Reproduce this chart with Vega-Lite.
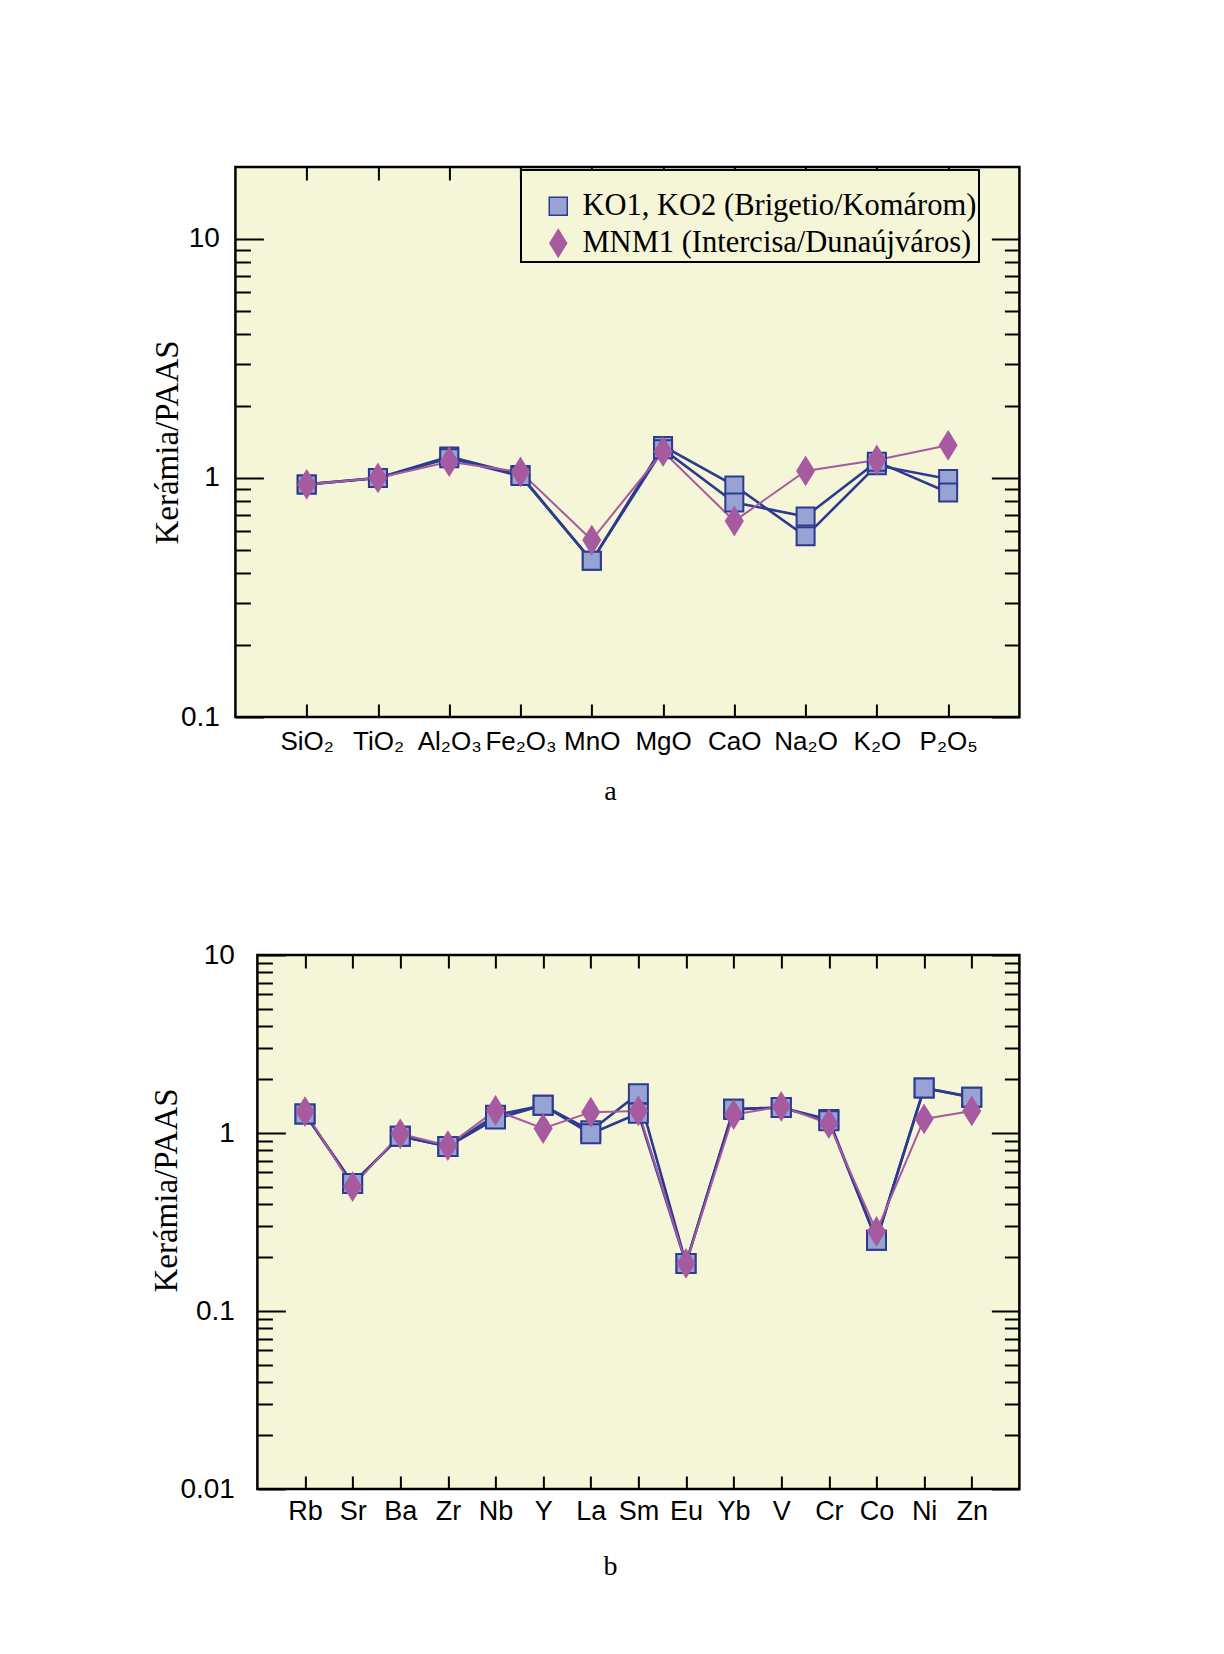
{
  "$schema": "https://vega.github.io/schema/vega-lite/v6.json",
  "background": "white",
  "padding": {"left": 149, "top": 164, "right": 10, "bottom": 10},
  "config": {
    "view": {"fill": "#f5f5d8", "stroke": "#000000", "strokeWidth": 2.5},
    "legend": {"strokeWidth": 2},
    "axis": {"tickColor": "#000000", "tickWidth": 2, "domain": false, "grid": false, "labelColor": "#000000", "titleColor": "#000000", "labelFont": "Liberation Sans", "labelFlush": false, "labelOverlap": false}
  },
  "datasets": {
    "a": [
      {"sample": "KO1", "group": "KO1, KO2 (Brigetio/Komárom)", "oxide": "SiO₂", "value": 0.94},
      {"sample": "KO1", "group": "KO1, KO2 (Brigetio/Komárom)", "oxide": "TiO₂", "value": 1.0},
      {"sample": "KO1", "group": "KO1, KO2 (Brigetio/Komárom)", "oxide": "Al₂O₃", "value": 1.23},
      {"sample": "KO1", "group": "KO1, KO2 (Brigetio/Komárom)", "oxide": "Fe₂O₃", "value": 1.03},
      {"sample": "KO1", "group": "KO1, KO2 (Brigetio/Komárom)", "oxide": "MnO", "value": 0.45},
      {"sample": "KO1", "group": "KO1, KO2 (Brigetio/Komárom)", "oxide": "MgO", "value": 1.36},
      {"sample": "KO1", "group": "KO1, KO2 (Brigetio/Komárom)", "oxide": "CaO", "value": 0.93},
      {"sample": "KO1", "group": "KO1, KO2 (Brigetio/Komárom)", "oxide": "Na₂O", "value": 0.57},
      {"sample": "KO1", "group": "KO1, KO2 (Brigetio/Komárom)", "oxide": "K₂O", "value": 1.13},
      {"sample": "KO1", "group": "KO1, KO2 (Brigetio/Komárom)", "oxide": "P₂O₅", "value": 0.99},
      {"sample": "KO2", "group": "KO1, KO2 (Brigetio/Komárom)", "oxide": "SiO₂", "value": 0.94},
      {"sample": "KO2", "group": "KO1, KO2 (Brigetio/Komárom)", "oxide": "TiO₂", "value": 1.0},
      {"sample": "KO2", "group": "KO1, KO2 (Brigetio/Komárom)", "oxide": "Al₂O₃", "value": 1.21},
      {"sample": "KO2", "group": "KO1, KO2 (Brigetio/Komárom)", "oxide": "Fe₂O₃", "value": 1.02},
      {"sample": "KO2", "group": "KO1, KO2 (Brigetio/Komárom)", "oxide": "MnO", "value": 0.45},
      {"sample": "KO2", "group": "KO1, KO2 (Brigetio/Komárom)", "oxide": "MgO", "value": 1.32},
      {"sample": "KO2", "group": "KO1, KO2 (Brigetio/Komárom)", "oxide": "CaO", "value": 0.79},
      {"sample": "KO2", "group": "KO1, KO2 (Brigetio/Komárom)", "oxide": "Na₂O", "value": 0.69},
      {"sample": "KO2", "group": "KO1, KO2 (Brigetio/Komárom)", "oxide": "K₂O", "value": 1.17},
      {"sample": "KO2", "group": "KO1, KO2 (Brigetio/Komárom)", "oxide": "P₂O₅", "value": 0.87},
      {"sample": "MNM1", "group": "MNM1 (Intercisa/Dunaújváros)", "oxide": "SiO₂", "value": 0.94},
      {"sample": "MNM1", "group": "MNM1 (Intercisa/Dunaújváros)", "oxide": "TiO₂", "value": 1.0},
      {"sample": "MNM1", "group": "MNM1 (Intercisa/Dunaújváros)", "oxide": "Al₂O₃", "value": 1.17},
      {"sample": "MNM1", "group": "MNM1 (Intercisa/Dunaújváros)", "oxide": "Fe₂O₃", "value": 1.06},
      {"sample": "MNM1", "group": "MNM1 (Intercisa/Dunaújváros)", "oxide": "MnO", "value": 0.55},
      {"sample": "MNM1", "group": "MNM1 (Intercisa/Dunaújváros)", "oxide": "MgO", "value": 1.29},
      {"sample": "MNM1", "group": "MNM1 (Intercisa/Dunaújváros)", "oxide": "CaO", "value": 0.66},
      {"sample": "MNM1", "group": "MNM1 (Intercisa/Dunaújváros)", "oxide": "Na₂O", "value": 1.07},
      {"sample": "MNM1", "group": "MNM1 (Intercisa/Dunaújváros)", "oxide": "K₂O", "value": 1.19},
      {"sample": "MNM1", "group": "MNM1 (Intercisa/Dunaújváros)", "oxide": "P₂O₅", "value": 1.37}
    ],
    "b": [
      {"sample": "KO1", "group": "KO1, KO2 (Brigetio/Komárom)", "element": "Rb", "value": 1.28},
      {"sample": "KO1", "group": "KO1, KO2 (Brigetio/Komárom)", "element": "Sr", "value": 0.52},
      {"sample": "KO1", "group": "KO1, KO2 (Brigetio/Komárom)", "element": "Ba", "value": 0.96},
      {"sample": "KO1", "group": "KO1, KO2 (Brigetio/Komárom)", "element": "Zr", "value": 0.84},
      {"sample": "KO1", "group": "KO1, KO2 (Brigetio/Komárom)", "element": "Nb", "value": 1.26},
      {"sample": "KO1", "group": "KO1, KO2 (Brigetio/Komárom)", "element": "Y", "value": 1.43},
      {"sample": "KO1", "group": "KO1, KO2 (Brigetio/Komárom)", "element": "La", "value": 1.03},
      {"sample": "KO1", "group": "KO1, KO2 (Brigetio/Komárom)", "element": "Sm", "value": 1.66},
      {"sample": "KO1", "group": "KO1, KO2 (Brigetio/Komárom)", "element": "Eu", "value": 0.185},
      {"sample": "KO1", "group": "KO1, KO2 (Brigetio/Komárom)", "element": "Yb", "value": 1.36},
      {"sample": "KO1", "group": "KO1, KO2 (Brigetio/Komárom)", "element": "V", "value": 1.39},
      {"sample": "KO1", "group": "KO1, KO2 (Brigetio/Komárom)", "element": "Cr", "value": 1.19},
      {"sample": "KO1", "group": "KO1, KO2 (Brigetio/Komárom)", "element": "Co", "value": 0.25},
      {"sample": "KO1", "group": "KO1, KO2 (Brigetio/Komárom)", "element": "Ni", "value": 1.79},
      {"sample": "KO1", "group": "KO1, KO2 (Brigetio/Komárom)", "element": "Zn", "value": 1.59},
      {"sample": "KO2", "group": "KO1, KO2 (Brigetio/Komárom)", "element": "Rb", "value": 1.28},
      {"sample": "KO2", "group": "KO1, KO2 (Brigetio/Komárom)", "element": "Sr", "value": 0.52},
      {"sample": "KO2", "group": "KO1, KO2 (Brigetio/Komárom)", "element": "Ba", "value": 0.96},
      {"sample": "KO2", "group": "KO1, KO2 (Brigetio/Komárom)", "element": "Zr", "value": 0.84},
      {"sample": "KO2", "group": "KO1, KO2 (Brigetio/Komárom)", "element": "Nb", "value": 1.2},
      {"sample": "KO2", "group": "KO1, KO2 (Brigetio/Komárom)", "element": "Y", "value": 1.43},
      {"sample": "KO2", "group": "KO1, KO2 (Brigetio/Komárom)", "element": "La", "value": 0.99},
      {"sample": "KO2", "group": "KO1, KO2 (Brigetio/Komárom)", "element": "Sm", "value": 1.29},
      {"sample": "KO2", "group": "KO1, KO2 (Brigetio/Komárom)", "element": "Eu", "value": 0.185},
      {"sample": "KO2", "group": "KO1, KO2 (Brigetio/Komárom)", "element": "Yb", "value": 1.36},
      {"sample": "KO2", "group": "KO1, KO2 (Brigetio/Komárom)", "element": "V", "value": 1.39},
      {"sample": "KO2", "group": "KO1, KO2 (Brigetio/Komárom)", "element": "Cr", "value": 1.17},
      {"sample": "KO2", "group": "KO1, KO2 (Brigetio/Komárom)", "element": "Co", "value": 0.25},
      {"sample": "KO2", "group": "KO1, KO2 (Brigetio/Komárom)", "element": "Ni", "value": 1.79},
      {"sample": "KO2", "group": "KO1, KO2 (Brigetio/Komárom)", "element": "Zn", "value": 1.59},
      {"sample": "MNM1", "group": "MNM1 (Intercisa/Dunaújváros)", "element": "Rb", "value": 1.32},
      {"sample": "MNM1", "group": "MNM1 (Intercisa/Dunaújváros)", "element": "Sr", "value": 0.5},
      {"sample": "MNM1", "group": "MNM1 (Intercisa/Dunaújváros)", "element": "Ba", "value": 0.99},
      {"sample": "MNM1", "group": "MNM1 (Intercisa/Dunaújváros)", "element": "Zr", "value": 0.85},
      {"sample": "MNM1", "group": "MNM1 (Intercisa/Dunaújváros)", "element": "Nb", "value": 1.34},
      {"sample": "MNM1", "group": "MNM1 (Intercisa/Dunaújváros)", "element": "Y", "value": 1.06},
      {"sample": "MNM1", "group": "MNM1 (Intercisa/Dunaújváros)", "element": "La", "value": 1.31},
      {"sample": "MNM1", "group": "MNM1 (Intercisa/Dunaújváros)", "element": "Sm", "value": 1.33},
      {"sample": "MNM1", "group": "MNM1 (Intercisa/Dunaújváros)", "element": "Eu", "value": 0.185},
      {"sample": "MNM1", "group": "MNM1 (Intercisa/Dunaújváros)", "element": "Yb", "value": 1.27},
      {"sample": "MNM1", "group": "MNM1 (Intercisa/Dunaújváros)", "element": "V", "value": 1.41},
      {"sample": "MNM1", "group": "MNM1 (Intercisa/Dunaújváros)", "element": "Cr", "value": 1.13},
      {"sample": "MNM1", "group": "MNM1 (Intercisa/Dunaújváros)", "element": "Co", "value": 0.28},
      {"sample": "MNM1", "group": "MNM1 (Intercisa/Dunaújváros)", "element": "Ni", "value": 1.2},
      {"sample": "MNM1", "group": "MNM1 (Intercisa/Dunaújváros)", "element": "Zn", "value": 1.33}
    ]
  },
  "concat": [
    {
      "width": 784,
      "height": 550,
      "data": {"name": "a"},
      "title": {"text": "a", "orient": "bottom", "anchor": "middle", "font": "Liberation Serif", "fontSize": 28, "fontWeight": "normal", "color": "#000000", "dx": -17, "offset": 24},
      "resolve": {"axis": {"x": "independent", "y": "independent"}},
      "layer": [
        {
          "mark": {"type": "line"},
          "encoding": {
            "x": {"field": "oxide", "type": "nominal", "scale": {"type": "point", "domain": ["SiO₂", "TiO₂", "Al₂O₃", "Fe₂O₃", "MnO", "MgO", "CaO", "Na₂O", "K₂O", "P₂O₅"], "padding": 1},
              "axis": {"orient": "bottom", "title": null, "tickSize": -13, "labelPadding": 37, "labelBaseline": "middle", "labelFontSize": 26, "labelAngle": 0}},
            "y": {"field": "value", "type": "quantitative", "scale": {"type": "log", "domain": [0.1, 20], "nice": false, "zero": false},
              "axis": {"orient": "left", "values": [0.1, 1, 10], "format": "~g", "tickSize": -28, "labelPadding": 44, "labelFontSize": 28, "title": "Kerámia/PAAS", "titleFont": "Liberation Serif", "titleFontSize": 33, "titleFontWeight": "normal", "titleX": -68, "titleBaseline": "middle", "titleAlign": "center", "titleAngle": -90}},
            "detail": {"field": "sample"},
            "color": {"field": "group", "type": "nominal", "scale": {"domain": ["KO1, KO2 (Brigetio/Komárom)", "MNM1 (Intercisa/Dunaújváros)"], "range": ["#2d3a8f", "#a65ba0"]}, "legend": null},
            "strokeWidth": {"field": "group", "type": "nominal", "scale": {"domain": ["KO1, KO2 (Brigetio/Komárom)", "MNM1 (Intercisa/Dunaújváros)"], "range": [2.6, 2.0]}, "legend": null}
          }
        },
        {
          "mark": {"type": "point", "filled": true, "opacity": 1, "strokeWidth": 2},
          "encoding": {
            "x": {"field": "oxide", "type": "nominal", "axis": null},
            "y": {"field": "value", "type": "quantitative", "axis": null},
            "shape": {"field": "group", "type": "nominal", "scale": {"domain": ["KO1, KO2 (Brigetio/Komárom)", "MNM1 (Intercisa/Dunaújváros)"], "range": ["square", "M0,-1L0.62,0L0,1L-0.62,0Z"]},
              "legend": {"title": " ", "titleFontSize": 14, "titlePadding": 5, "orient": "none", "legendX": 286, "legendY": 3, "padding": 2, "strokeColor": "#000000", "fillColor": "#f5f5d8", "labelFont": "Liberation Serif", "labelFontSize": 30.5, "labelColor": "#000000", "labelLimit": 800, "symbolOffset": 20, "labelOffset": 9, "rowPadding": 4}},
            "fill": {"field": "group", "type": "nominal", "scale": {"domain": ["KO1, KO2 (Brigetio/Komárom)", "MNM1 (Intercisa/Dunaújváros)"], "range": ["#97a3d3", "#a65ba0"]},
              "legend": {"title": " ", "titleFontSize": 14, "titlePadding": 5, "orient": "none", "legendX": 286, "legendY": 3, "padding": 2, "strokeColor": "#000000", "fillColor": "#f5f5d8", "labelFont": "Liberation Serif", "labelFontSize": 30.5, "labelColor": "#000000", "labelLimit": 800, "symbolOffset": 20, "labelOffset": 9, "rowPadding": 4}},
            "stroke": {"field": "group", "type": "nominal", "scale": {"domain": ["KO1, KO2 (Brigetio/Komárom)", "MNM1 (Intercisa/Dunaújváros)"], "range": ["#2d3a8f", "#a65ba0"]},
              "legend": {"title": " ", "titleFontSize": 14, "titlePadding": 5, "orient": "none", "legendX": 286, "legendY": 3, "padding": 2, "strokeColor": "#000000", "fillColor": "#f5f5d8", "labelFont": "Liberation Serif", "labelFontSize": 30.5, "labelColor": "#000000", "labelLimit": 800, "symbolOffset": 20, "labelOffset": 9, "rowPadding": 4}},
            "size": {"field": "group", "type": "nominal", "scale": {"domain": ["KO1, KO2 (Brigetio/Komárom)", "MNM1 (Intercisa/Dunaújváros)"], "range": [324, 729]},
              "legend": {"title": " ", "titleFontSize": 14, "titlePadding": 5, "orient": "none", "legendX": 286, "legendY": 3, "padding": 2, "strokeColor": "#000000", "fillColor": "#f5f5d8", "labelFont": "Liberation Serif", "labelFontSize": 30.5, "labelColor": "#000000", "labelLimit": 800, "symbolOffset": 20, "labelOffset": 9, "rowPadding": 4}}
          }
        },
        {
          "mark": {"type": "point", "opacity": 0},
          "encoding": {
            "x": {"field": "oxide", "type": "nominal", "axis": null},
            "y": {"field": "value", "type": "quantitative", "axis": {"orient": "left", "values": [0.2, 0.3, 0.4, 0.5, 0.6, 0.7, 0.8, 0.9, 2, 3, 4, 5, 6, 7, 8, 9], "tickSize": -15, "labels": false, "title": null}}
          }
        },
        {
          "mark": {"type": "point", "opacity": 0},
          "encoding": {
            "x": {"field": "oxide", "type": "nominal", "axis": null},
            "y": {"field": "value", "type": "quantitative", "axis": {"orient": "right", "values": [0.1, 1, 10], "format": "~g", "tickSize": -28, "labels": true, "labelOpacity": 0, "labelFontSize": 28, "labelPadding": 12, "title": null}}
          }
        },
        {
          "mark": {"type": "point", "opacity": 0},
          "encoding": {
            "x": {"field": "oxide", "type": "nominal", "axis": null},
            "y": {"field": "value", "type": "quantitative", "axis": {"orient": "right", "values": [0.2, 0.3, 0.4, 0.5, 0.6, 0.7, 0.8, 0.9, 2, 3, 4, 5, 6, 7, 8, 9], "tickSize": -15, "labels": false, "title": null}}
          }
        },
        {
          "mark": {"type": "point", "opacity": 0},
          "encoding": {
            "x": {"field": "oxide", "type": "nominal", "axis": {"orient": "top", "tickSize": -13, "labels": false, "title": null}},
            "y": {"field": "value", "type": "quantitative", "axis": null}
          }
        }
      ]
    },
    {
      "width": 762,
      "height": 534,
      "data": {"name": "b"},
      "title": {"text": "b", "orient": "bottom", "anchor": "middle", "font": "Liberation Serif", "fontSize": 28, "fontWeight": "normal", "color": "#000000", "dx": -28, "offset": 29},
      "resolve": {"axis": {"x": "independent", "y": "independent"}},
      "layer": [
        {
          "mark": {"type": "line"},
          "encoding": {
            "x": {"field": "element", "type": "nominal", "scale": {"type": "point", "domain": ["Rb", "Sr", "Ba", "Zr", "Nb", "Y", "La", "Sm", "Eu", "Yb", "V", "Cr", "Co", "Ni", "Zn"], "padding": 1},
              "axis": {"orient": "bottom", "title": null, "tickSize": -13, "labelPadding": 35, "labelBaseline": "middle", "labelFontSize": 27, "labelAngle": 0}},
            "y": {"field": "value", "type": "quantitative", "scale": {"type": "log", "domain": [0.01, 10], "nice": false, "zero": false},
              "axis": {"orient": "left", "values": [0.01, 0.1, 1, 10], "format": "~g", "tickSize": -28, "labelPadding": 51, "labelFontSize": 28, "title": "Kerámia/PAAS", "titleFont": "Liberation Serif", "titleFontSize": 33, "titleFontWeight": "normal", "titleX": -91, "titleY": 235, "titleBaseline": "middle", "titleAlign": "center", "titleAngle": -90}},
            "detail": {"field": "sample"},
            "color": {"field": "group", "type": "nominal", "scale": {"domain": ["KO1, KO2 (Brigetio/Komárom)", "MNM1 (Intercisa/Dunaújváros)"], "range": ["#2d3a8f", "#a65ba0"]}, "legend": null},
            "strokeWidth": {"field": "group", "type": "nominal", "scale": {"domain": ["KO1, KO2 (Brigetio/Komárom)", "MNM1 (Intercisa/Dunaújváros)"], "range": [2.6, 2.0]}, "legend": null}
          }
        },
        {
          "transform": [{"filter": "datum.sample != 'MNM1'"}],
          "mark": {"type": "point", "filled": true, "opacity": 1, "shape": "square", "size": 361, "fill": "#97a3d3", "stroke": "#2d3a8f", "strokeWidth": 2},
          "encoding": {
            "x": {"field": "element", "type": "nominal", "axis": null},
            "y": {"field": "value", "type": "quantitative", "axis": null}
          }
        },
        {
          "transform": [{"filter": "datum.sample == 'MNM1'"}],
          "mark": {"type": "point", "filled": true, "opacity": 1, "shape": "M0,-1L0.62,0L0,1L-0.62,0Z", "size": 729, "fill": "#a65ba0", "stroke": "#a65ba0", "strokeWidth": 2},
          "encoding": {
            "x": {"field": "element", "type": "nominal", "axis": null},
            "y": {"field": "value", "type": "quantitative", "axis": null}
          }
        },
        {
          "mark": {"type": "point", "opacity": 0},
          "encoding": {
            "x": {"field": "element", "type": "nominal", "axis": null},
            "y": {"field": "value", "type": "quantitative", "axis": {"orient": "left", "values": [0.02, 0.03, 0.04, 0.05, 0.06, 0.07, 0.08, 0.09, 0.2, 0.3, 0.4, 0.5, 0.6, 0.7, 0.8, 0.9, 2, 3, 4, 5, 6, 7, 8, 9], "tickSize": -15, "labels": false, "title": null}}
          }
        },
        {
          "mark": {"type": "point", "opacity": 0},
          "encoding": {
            "x": {"field": "element", "type": "nominal", "axis": null},
            "y": {"field": "value", "type": "quantitative", "axis": {"orient": "right", "values": [0.01, 0.1, 1, 10], "tickSize": -28, "labels": false, "title": null}}
          }
        },
        {
          "mark": {"type": "point", "opacity": 0},
          "encoding": {
            "x": {"field": "element", "type": "nominal", "axis": null},
            "y": {"field": "value", "type": "quantitative", "axis": {"orient": "right", "values": [0.02, 0.03, 0.04, 0.05, 0.06, 0.07, 0.08, 0.09, 0.2, 0.3, 0.4, 0.5, 0.6, 0.7, 0.8, 0.9, 2, 3, 4, 5, 6, 7, 8, 9], "tickSize": -15, "labels": false, "title": null}}
          }
        },
        {
          "mark": {"type": "point", "opacity": 0},
          "encoding": {
            "x": {"field": "element", "type": "nominal", "axis": {"orient": "top", "tickSize": -13, "labels": false, "title": null}},
            "y": {"field": "value", "type": "quantitative", "axis": null}
          }
        }
      ]
    }
  ],
  "columns": 1,
  "center": true,
  "spacing": 131,
  "resolve": {"scale": {"color": "independent", "strokeWidth": "independent"}}
}
